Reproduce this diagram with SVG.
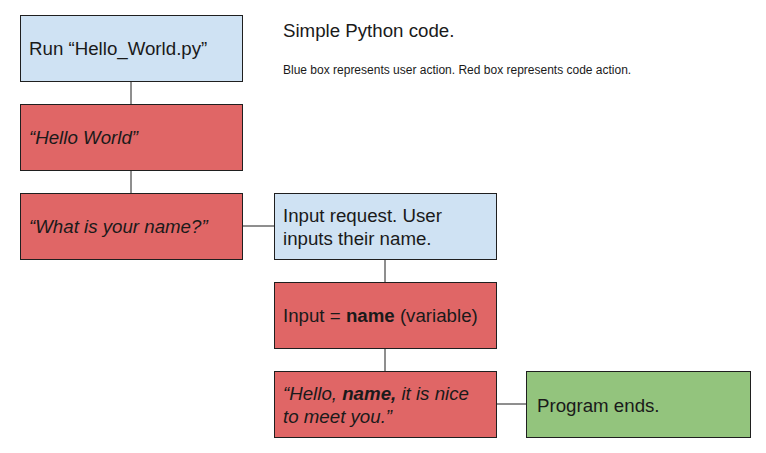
<svg xmlns="http://www.w3.org/2000/svg" width="766" height="453" viewBox="0 0 766 453">
<style>
.box{stroke:#1f1f1f;stroke-width:1}
.blue{fill:#cfe2f3}
.red{fill:#e06666}
.green{fill:#93c47d}
.t{font-family:"Liberation Sans",Arial,sans-serif;font-size:18.7px;fill:#1a1a1a}
.i{font-style:italic}
.b{font-weight:bold}
.conn{stroke:#1f1f1f;stroke-width:1;fill:none}
</style>
<rect width="766" height="453" fill="#ffffff"/>
<g id="connectors">
<line class="conn" x1="131" y1="81" x2="131" y2="104"/>
<line class="conn" x1="131" y1="170" x2="131" y2="193"/>
<line class="conn" x1="242" y1="226" x2="274" y2="226"/>
<line class="conn" x1="385" y1="259" x2="385" y2="282"/>
<line class="conn" x1="385" y1="348" x2="385" y2="371"/>
<line class="conn" x1="496" y1="404" x2="526" y2="404"/>
</g>
<g id="run">
<rect class="box blue" x="20.5" y="15.5" width="222" height="66"/>
<text class="t" x="29" y="55">Run “Hello_World.py”</text>
</g>
<g id="hello">
<rect class="box red" x="20.5" y="104.5" width="222" height="66"/>
<text class="t i" x="29" y="144">“Hello World”</text>
</g>
<g id="askname">
<rect class="box red" x="20.5" y="193.5" width="222" height="66"/>
<text class="t i" x="29" y="233">“What is your name?”</text>
</g>
<g id="input">
<rect class="box blue" x="274.5" y="193.5" width="222" height="66"/>
<text class="t" x="283" y="222">Input request. User</text>
<text class="t" x="283" y="245">inputs their name.</text>
</g>
<g id="variable">
<rect class="box red" x="274.5" y="282.5" width="222" height="66"/>
<text class="t" x="283" y="322">Input = <tspan class="b">name</tspan> (variable)</text>
</g>
<g id="greet">
<rect class="box red" x="274.5" y="371.5" width="222" height="66"/>
<text class="t i" x="283" y="400">“Hello, <tspan class="b">name,</tspan> it is nice</text>
<text class="t i" x="283" y="423">to meet you.”</text>
</g>
<g id="end">
<rect class="box green" x="526.5" y="371.5" width="224" height="66"/>
<text class="t" x="537" y="412">Program ends.</text>
</g>
<g id="notes">
<text class="t" x="283" y="37">Simple Python code.</text>
<text class="t" x="283" y="74" style="font-size:12px">Blue box represents user action. Red box represents code action.</text>
</g>
</svg>
